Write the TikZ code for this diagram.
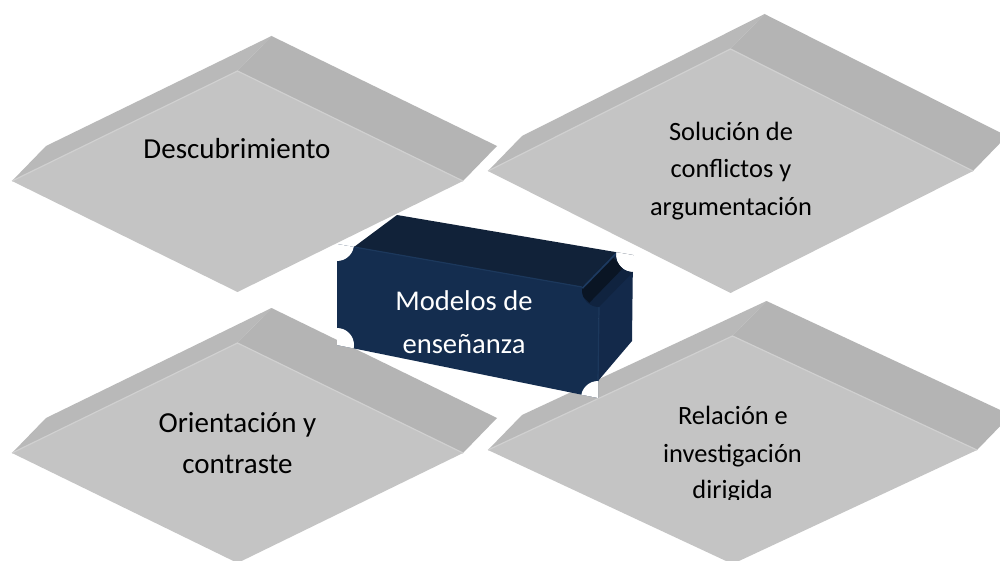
\documentclass[tikz,border=0pt]{standalone}
\usepackage{fontspec}
\setmainfont{Carlito}
\usetikzlibrary{calc}
\definecolor{plateTop}{HTML}{C4C4C4}
\definecolor{plateL}{HTML}{B9B9B9}
\definecolor{plateR}{HTML}{B4B4B4}
\definecolor{plateHi}{HTML}{D0D0D0}
\definecolor{boxFront}{HTML}{142D4F}
\definecolor{boxTop}{HTML}{112239}
\definecolor{boxSide}{HTML}{13294A}
\definecolor{boxGroove}{HTML}{10233F}
\definecolor{boxGrooveDark}{HTML}{0A1524}
\definecolor{boxGrooveHi}{HTML}{1D3A60}
\definecolor{boxEdge}{HTML}{1C385C}
\newcommand\PlateShape[6]{%
  \coordinate (#1L) at ({#2-#4},#3);
  \coordinate (#1T) at (#2,{#3-#5});
  \coordinate (#1R) at ({#2+#4},#3);
  \coordinate (#1B) at (#2,{#3+#6});
  \coordinate (#1Lo) at ($(#1L)+(34,-35)$);
  \coordinate (#1To) at ($(#1T)+(34,-35)$);
  \coordinate (#1Ro) at ($(#1R)+(34,-35)$);
  \fill[plateL] (#1L) -- (#1Lo) -- (#1To) -- (#1T) -- cycle;
  \fill[plateR] (#1T) -- (#1To) -- (#1Ro) -- (#1R) -- cycle;
  \fill[plateTop] (#1L) -- (#1T) -- (#1R) -- (#1B) -- cycle;
  \draw[plateHi, line width=0.6pt] (#1L) -- (#1T) -- (#1R);
}
\tikzset{
  lblL/.style={anchor=base, inner sep=0pt, text=black, font=\fontsize{14.5}{17}\selectfont},
  lblR/.style={anchor=base, inner sep=0pt, text=black, font=\fontsize{13.2}{16}\selectfont},
  lblBox/.style={anchor=base, inner sep=0pt, text=white, font=\fontsize{14.3}{17}\selectfont},
}
\begin{document}
\begin{tikzpicture}[x=0.5pt, y=-0.5pt]
\clip (0,0) rectangle (1000,561);
\fill[white] (0,0) rectangle (1000,561);

% plates
\PlateShape{tl}{237.5}{181}{225.5}{110}{111}
\PlateShape{tr}{730.5}{171}{242.5}{122}{122}
\PlateShape{bl}{237.5}{453}{225.5}{110}{110}
\PlateShape{br}{732.5}{450}{244.5}{114}{114}

\node[lblL] (tl1) at (237,159) {Descubrimiento};

\node[lblR] (tr1) at (731,141) {Solución de};
\node[lblR] (tr2) at (731,178) {conflictos y};
\node[lblR] (tr3) at (731,216) {argumentación};

\node[lblL] (bl1) at (237.5,432) {Orientación y};
\node[lblL] (bl2) at (237.5,473) {contraste};

\node[lblR] (br1) at (733,424) {Relación e};
\node[lblR] (br2) at (732.5,462) {investigación};
\begin{scope}
  \clip (480,0) rectangle (1000,499);
  \node[lblR] (br3) at (732.5,498) {dirigida};
\end{scope}

% central box
\coordinate (fTL) at (337,244);
\coordinate (fTR) at (599,290);
\coordinate (fBR) at (598,398);
\coordinate (fBL) at (337,345);
\coordinate (bTL) at (380,212);
\coordinate (bTR) at (633,255);
\coordinate (bBR) at (632,358);

\fill[boxTop] (354,247) -- (397,215) -- (bTR) -- (fTR) -- cycle;
\fill[boxSide] (fTR) -- (bTR) -- (632,341) -- (598,381) -- cycle;
\fill[boxFront] (fTL) -- (fTR) -- (fBR) -- (fBL) -- cycle;
\draw[boxEdge, line width=0.6pt] (599,307) -- (598,381);
\draw[boxEdge, line width=0.6pt] (354,247) -- (582,287);

\begin{scope}
  \clip (fTL) -- (fTR) -- (fBR) -- (fBL) -- cycle;
  \fill[white] (fTL) circle[radius=17];
  \fill[white] (fBL) circle[radius=17];
  \fill[white] (fBR) circle[radius=17];
\end{scope}
\begin{scope}
  \clip (354,247) -- (397,215) -- (bTR) -- (632,341) -- (598,381) -- (fTR) -- cycle;
  \fill[white] (bTR) circle[radius=17];
\end{scope}

\begin{scope}
  \clip plot[domain=190:90, samples=20] ({599+17*cos(\x)},{290+17*sin(\x)})
    -- plot[domain=90:190, samples=20] ({633+17*cos(\x)},{255+17*sin(\x)}) -- cycle;
  \fill[boxGroove] (570,240) rectangle (640,320);
  \draw[boxGrooveDark, line width=8pt]
    ({599+17*cos(155)},{290+17*sin(155)}) -- ({633+17*cos(155)},{255+17*sin(155)});
  \draw[boxGrooveHi, line width=1.2pt]
    ({599+17*cos(187)},{290+17*sin(187)}) -- ({633+17*cos(187)},{255+17*sin(187)});
\end{scope}

\node[lblBox] (m1) at (464,310) {Modelos de};
\node[lblBox] (m2) at (464,353) {enseñanza};
\end{tikzpicture}
\end{document}
